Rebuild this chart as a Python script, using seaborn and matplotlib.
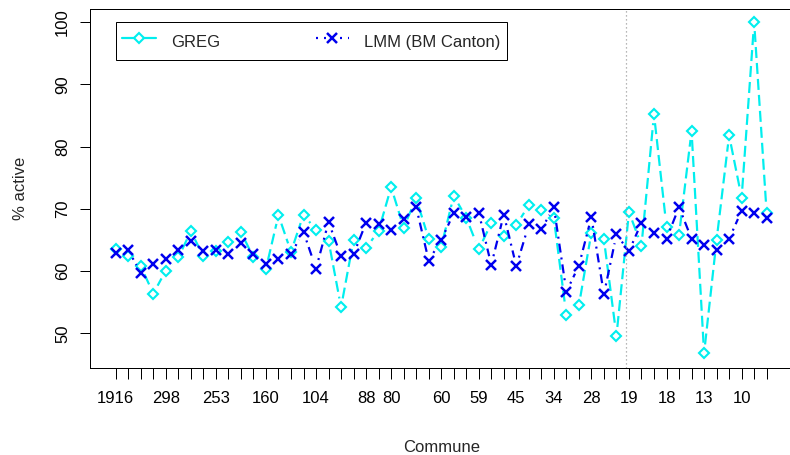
import numpy as np
import pandas as pd
import matplotlib
matplotlib.use("Agg")
import matplotlib.pyplot as plt
import seaborn as sns
from matplotlib.lines import Line2D

# ---------------- data ----------------
greg = [63.5, 62.4, 60.8, 56.4, 60.1, 62.2, 66.4, 62.4, 63.3, 64.7,
        66.3, 62.2, 60.4, 69.0, 63.1, 69.1, 66.6, 64.9, 54.2, 65.0,
        63.7, 66.5, 73.5, 67.0, 71.7, 65.2, 63.9, 72.1, 68.6, 63.5,
        67.7, 65.7, 67.4, 70.6, 69.8, 68.5, 52.9, 54.5, 66.2, 65.1,
        49.6, 69.5, 64.1, 85.2, 67.1, 65.8, 82.5, 46.8, 65.0, 81.8,
        71.8, 100.0, 69.3]
lmm = [62.9, 63.4, 59.7, 61.1, 61.9, 63.4, 64.8, 63.3, 63.4, 62.7,
       64.5, 62.8, 61.1, 61.9, 62.8, 66.3, 60.4, 67.9, 62.4, 62.7,
       67.8, 67.5, 66.6, 68.3, 70.3, 61.7, 65.0, 69.3, 68.7, 69.4,
       61.0, 69.1, 60.8, 67.5, 66.7, 70.3, 56.7, 60.9, 68.7, 56.3,
       65.9, 63.2, 67.8, 66.1, 65.2, 70.3, 65.2, 64.2, 63.4, 65.2,
       69.7, 69.3, 68.5]
label_pos = [1, 5, 9, 13, 17, 21, 23, 27, 30, 33, 36, 39, 42, 45, 48, 51]
label_txt = ["1916", "298", "253", "160", "104", "88", "80", "60", "59",
             "45", "34", "28", "19", "18", "13", "10"]
series_names = ["GREG", "LMM (BM Canton)"]
y_ticks = [50, 60, 70, 80, 90, 100]
split_at = 41.75

pos = np.arange(1, len(greg) + 1)

# ---------------- style ----------------
sns.set_theme(style="white")
plt.rcParams['font.family'] = ['Liberation Sans', 'DejaVu Sans']
plt.rcParams['lines.scale_dashes'] = False
FS = 12
PX = 0.72  # points per pixel at dpi 100

CYAN = "#00EEEE"
BLUE = "#0000EE"
D_SIZE, X_SIZE = 5.3, 7.0

fig = plt.figure(figsize=(7.9, 4.55), dpi=100)
W, H = 790.0, 455.0
left, right, top, bottom = 89.7, 792.7, 9.3, 367.7
ax = fig.add_axes([left / W, 1 - bottom / H, (right - left) / W, (bottom - top) / H])
ax.set_xlim(1 - 2.08, len(greg) + 2.08)
ax.set_ylim(44.5, 102.05)


def gapped(xs, ys, gap):
    P = ax.transData.transform(np.column_stack([xs, ys]))
    inv = ax.transData.inverted()
    rows = []
    for k in range(len(P) - 1):
        d = P[k + 1] - P[k]
        L = np.hypot(*d)
        if L <= 2 * gap:
            continue
        u = d / L
        a = inv.transform(P[k] + u * gap)
        b = inv.transform(P[k + 1] - u * gap)
        rows.append(dict(seg=k, x=a[0], y=a[1]))
        rows.append(dict(seg=k, x=b[0], y=b[1]))
    return pd.DataFrame(rows)


greg_dash = (0, (11 * PX, 5 * PX))
lmm_dash = (0, (2 * PX, 5 * PX, 9 * PX, 5 * PX))

# GREG
sg = gapped(pos, greg, 9)
sns.lineplot(data=sg, x="x", y="y", units="seg", estimator=None, sort=False,
             color=CYAN, lw=2.2 * PX, linestyle=greg_dash, ax=ax, legend=False)
sns.lineplot(x=pos, y=greg, estimator=None, sort=False, linestyle="none",
             marker="D", markersize=D_SIZE, markerfacecolor="none",
             markeredgecolor=CYAN, markeredgewidth=2.1 * PX, color=CYAN,
             ax=ax, legend=False)

# LMM
sl = gapped(pos, lmm, 9)
sns.lineplot(data=sl, x="x", y="y", units="seg", estimator=None, sort=False,
             color=BLUE, lw=2.2 * PX, linestyle=lmm_dash, ax=ax, legend=False)
sns.lineplot(x=pos, y=lmm, estimator=None, sort=False, linestyle="none",
             marker="x", markersize=X_SIZE, markeredgecolor=BLUE,
             markeredgewidth=2.5 * PX, color=BLUE, ax=ax, legend=False)

ax.axvline(split_at, color="#999999", lw=1.2 * PX, linestyle=(0, (1.2 * PX, 2.8 * PX)))

# ---------------- axes ----------------
ax.set_xticks(pos)
lab_map = dict(zip(label_pos, label_txt))
ax.set_xticklabels([lab_map.get(p, "") for p in pos])
ax.set_yticks(y_ticks)
ax.set_yticklabels([str(v) for v in y_ticks])
ax.tick_params(axis="x", direction="out", length=11 * PX, width=1 * PX,
               pad=9, labelsize=FS, colors="black", bottom=True)
ax.tick_params(axis="y", direction="out", length=10 * PX, width=1 * PX,
               pad=7, labelsize=FS, colors="black", left=True, labelrotation=90)
for t in ax.get_yticklabels():
    t.set_va("center")
for s in ax.spines.values():
    s.set_color("black")
    s.set_linewidth(1 * PX)
    s.set_visible(True)

ax.set_xlabel("Commune", fontsize=FS)
ax.set_ylabel("% active", fontsize=FS)
axw, axh = right - left, bottom - top
ax.xaxis.set_label_coords(0.5, (bottom - 447) / axh)
ax.xaxis.label.set_va("center")
ax.yaxis.set_label_coords((20 - left) / axw, 0.5)
ax.yaxis.label.set_va("center")

# ---------------- legend ----------------
h1 = Line2D([], [], color=CYAN, lw=2.2 * PX, linestyle="-", marker="D",
            markersize=D_SIZE, markerfacecolor="white", markeredgecolor=CYAN,
            markeredgewidth=2.1 * PX)
h2 = Line2D([], [], color=BLUE, lw=2.2 * PX, linestyle=(0, (2 * PX, 6 * PX)),
            marker="x", markersize=X_SIZE, markeredgecolor=BLUE,
            markeredgewidth=2.5 * PX)
leg = ax.legend([h1, h2], series_names, ncol=2, loc="upper left",
                bbox_to_anchor=(115.7 / W, 1 - 22.3 / H), bbox_transform=fig.transFigure,
                borderaxespad=0, frameon=True, fancybox=False, edgecolor="black",
                fontsize=FS, handlelength=2.0, handletextpad=0.9,
                columnspacing=5.76, borderpad=0.4, handleheight=1.9)
leg.get_frame().set_linewidth(1 * PX)
leg.get_frame().set_alpha(None)
leg.get_frame().set_facecolor("white")

fig.savefig("out.png", dpi=100)
